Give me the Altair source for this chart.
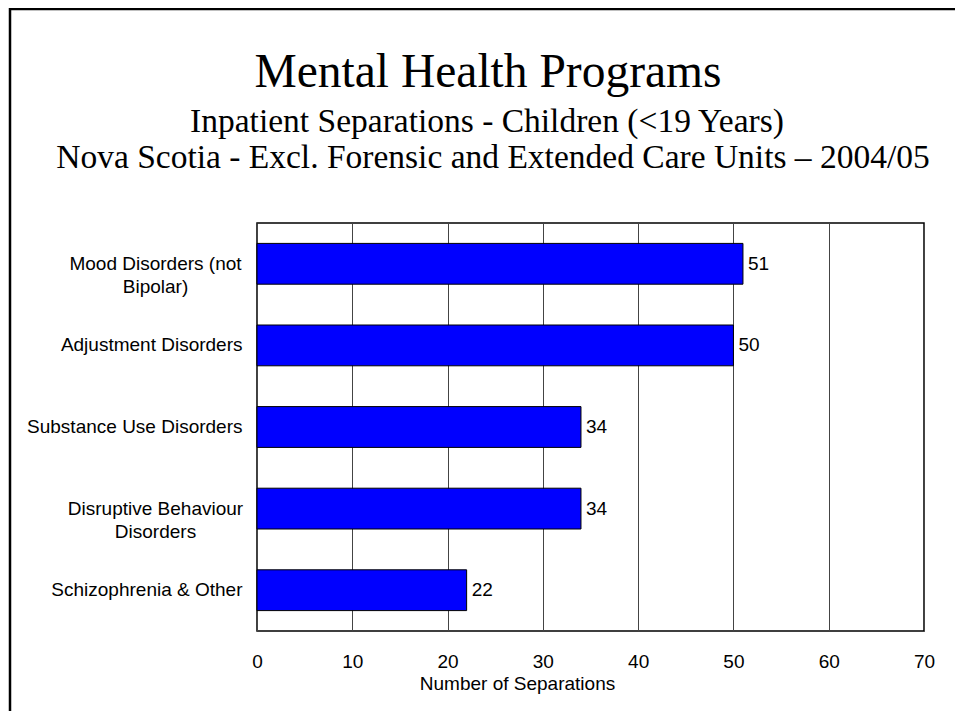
import altair as alt
import pandas as pd

categories = [
    "Mood Disorders (not Bipolar)",
    "Adjustment Disorders",
    "Substance Use Disorders",
    "Disruptive Behaviour Disorders",
    "Schizophrenia & Other",
]
values = [51, 50, 34, 34, 22]
label_lines = [
    ["Mood Disorders (not", "Bipolar)"],
    ["Adjustment Disorders"],
    ["Substance Use Disorders"],
    ["Disruptive Behaviour", "Disorders"],
    ["Schizophrenia & Other"],
]
x_ticks = [0, 10, 20, 30, 40, 50, 60, 70]

title_text = "Mental Health Programs"
subtitle_lines = [
    "Inpatient Separations - Children (<19 Years)",
    "Nova Scotia - Excl. Forensic and Extended Care Units \u2013 2004/05",
]
x_title = "Number of Separations"

df = pd.DataFrame({"category": categories, "value": values})
multi = [c for c, l in zip(categories, label_lines) if len(l) > 1]
multi_df = pd.DataFrame(
    {
        "category": multi,
        "label": ["|".join(l) for c, l in zip(categories, label_lines) if len(l) > 1],
    }
)

multi_arr = "[" + ", ".join("'" + c + "'" for c in multi) + "]"
expr = f"indexof({multi_arr}, datum.label) >= 0 ? '' : datum.label"

SANS = "Liberation Sans"
SERIF = "Liberation Serif"

y_sorted = alt.Y("category:N", sort=categories)

y_enc = alt.Y(
    "category:N",
    sort=categories,
    scale=alt.Scale(paddingInner=0.5, paddingOuter=0.25),
    axis=alt.Axis(
        title=None,
        labelExpr=expr,
        labelFont=SANS,
        labelFontSize=19,
        labelColor="black",
        labelPadding=15,
        labelLimit=400,
        ticks=False,
        tickSize=0,
        domain=False,
        grid=False,
    ),
)
x_enc = alt.X(
    "value:Q",
    scale=alt.Scale(domain=[0, 70], nice=False, zero=True),
    axis=alt.Axis(
        values=x_ticks,
        grid=True,
        gridColor="#444444",
        gridWidth=1,
        ticks=False,
        tickSize=0,
        domain=False,
        labelFont=SANS,
        labelFontSize=19,
        labelColor="black",
        labelPadding=21,
        labelFlush=False,
        title=x_title,
        titleFont=SANS,
        titleFontSize=19,
        titleFontWeight="normal",
        titleColor="black",
        titlePadding=3,
        titleX=260,
        titleAlign="center",
    ),
)

bars = alt.Chart(df).mark_bar(color="#0000FF", stroke="black", strokeWidth=1).encode(
    x=x_enc, y=y_enc
)
values_text = alt.Chart(df).mark_text(
    align="left", baseline="middle", dx=5, font=SANS, fontSize=19, color="black"
).encode(x="value:Q", y=y_sorted, text="value:Q")

# two-line category labels, each line centred on the other
multi_labels = alt.Chart(multi_df).mark_text(
    align="center", baseline="middle", lineBreak="|", lineHeight=23,
    font=SANS, fontSize=19, color="black",
).encode(x=alt.value(-101.5), y=y_sorted, text="label:N")

# titles
one = alt.Data(values=[{}])
title_mark = alt.Chart(one).mark_text(
    align="center", baseline="alphabetic", font=SERIF, fontSize=47.5, color="black"
).encode(x=alt.value(231), y=alt.value(-136), text=alt.value(title_text))
sub1_mark = alt.Chart(one).mark_text(
    align="center", baseline="alphabetic", font=SERIF, fontSize=33.5, color="black"
).encode(x=alt.value(230), y=alt.value(-91), text=alt.value(subtitle_lines[0]))
sub2_mark = alt.Chart(one).mark_text(
    align="center", baseline="alphabetic", font=SERIF, fontSize=33.5, color="black"
).encode(x=alt.value(236), y=alt.value(-55), text=alt.value(subtitle_lines[1]))

# slide frame
frame_top = alt.Chart(one).mark_rule(color="black", strokeWidth=2.5).encode(
    x=alt.value(-248), x2=alt.value(730), y=alt.value(-214)
)
frame_left = alt.Chart(one).mark_rule(color="black", strokeWidth=2.5).encode(
    x=alt.value(-247), y=alt.value(-215), y2=alt.value(520)
)

chart = (
    alt.layer(bars, values_text, multi_labels, title_mark, sub1_mark, sub2_mark,
              frame_top, frame_left)
    .properties(
        width=667,
        height=408,
        autosize=alt.AutoSizeParams(type="none"),
        padding={"left": 249, "top": 215, "right": 31, "bottom": 80},
        background="white",
    )
    .configure_view(stroke="black", strokeWidth=1.5)
)

chart.save("out.html", embed_options={"renderer": "svg", "actions": False})
